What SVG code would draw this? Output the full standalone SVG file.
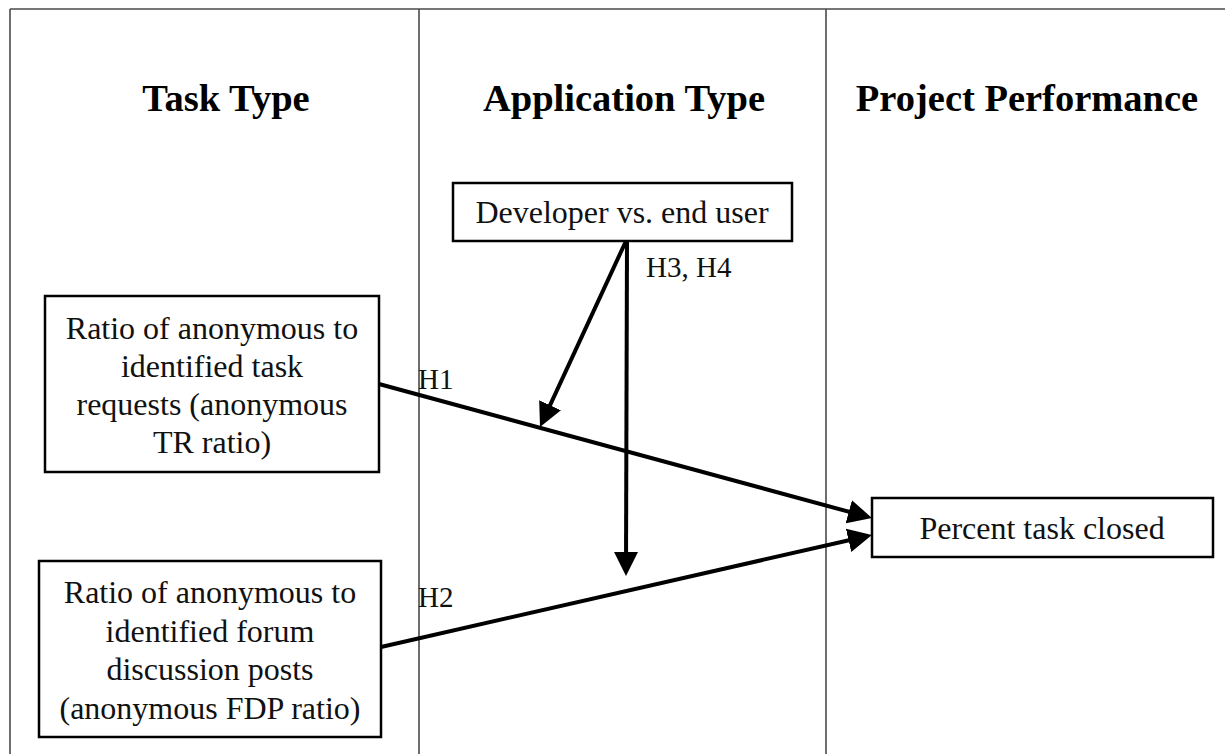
<svg xmlns="http://www.w3.org/2000/svg" width="1225" height="754" viewBox="0 0 1225 754">
<style>
.frame{stroke:#4a4a4a;stroke-width:1.6;fill:none}
.box{fill:#fff;stroke:#000;stroke-width:2.5}
.t{font-family:"Liberation Serif","Times New Roman",serif;font-size:32px;fill:#111;text-anchor:middle}
.h{font-family:"Liberation Serif","Times New Roman",serif;font-size:29px;fill:#111}
.title{font-family:"Liberation Serif","Times New Roman",serif;font-size:38.5px;font-weight:bold;fill:#000;text-anchor:middle}
.c{stroke:#000;stroke-width:4;fill:none;marker-end:url(#ah)}
</style>
<defs>
<marker id="ah" markerUnits="userSpaceOnUse" markerWidth="24" markerHeight="24" refX="14" refY="12" orient="auto" viewBox="0 0 24 24">
<path d="M0,0 L24,12 L0,24 z" fill="#000"/>
</marker>
</defs>
<rect width="1225" height="754" fill="#fff"/>
<g id="frame">
<line class="frame" x1="10" y1="9" x2="1225" y2="9"/>
<line class="frame" x1="10" y1="9" x2="10" y2="754"/>
<line class="frame" x1="419" y1="9" x2="419" y2="754"/>
<line class="frame" x1="826" y1="9" x2="826" y2="754"/>
</g>
<g id="titles">
<text class="title" x="226" y="111">Task Type</text>
<text class="title" x="624" y="111">Application Type</text>
<text class="title" x="1027" y="111">Project Performance</text>
</g>
<g id="connectors">
<line class="c" x1="379" y1="384" x2="862.3" y2="515.4"/>
<line class="c" x1="381" y1="647" x2="862.2" y2="537.2"/>
<line class="c" x1="626" y1="241" x2="544.2" y2="417.9"/>
<line class="c" x1="627" y1="241" x2="626" y2="566"/>
<text class="h" x="418" y="389">H1</text>
<text class="h" x="418" y="607">H2</text>
<text class="h" x="646" y="277">H3, H4</text>
</g>
<g id="node-developer">
<rect class="box" x="453" y="183" width="339" height="58"/>
<text class="t" x="622" y="223">Developer vs. end user</text>
</g>
<g id="node-tr">
<rect class="box" x="45" y="296" width="334" height="176"/>
<text class="t" x="212" y="339">Ratio of anonymous to</text>
<text class="t" x="212" y="377">identified task</text>
<text class="t" x="212" y="415">requests (anonymous</text>
<text class="t" x="212" y="453">TR ratio)</text>
</g>
<g id="node-fdp">
<rect class="box" x="39" y="561" width="342" height="176"/>
<text class="t" x="210" y="603">Ratio of anonymous to</text>
<text class="t" x="210" y="642">identified forum</text>
<text class="t" x="210" y="680">discussion posts</text>
<text class="t" x="210" y="719">(anonymous FDP ratio)</text>
</g>
<g id="node-percent">
<rect class="box" x="872" y="498" width="341" height="59"/>
<text class="t" x="1042" y="539">Percent task closed</text>
</g>
</svg>
